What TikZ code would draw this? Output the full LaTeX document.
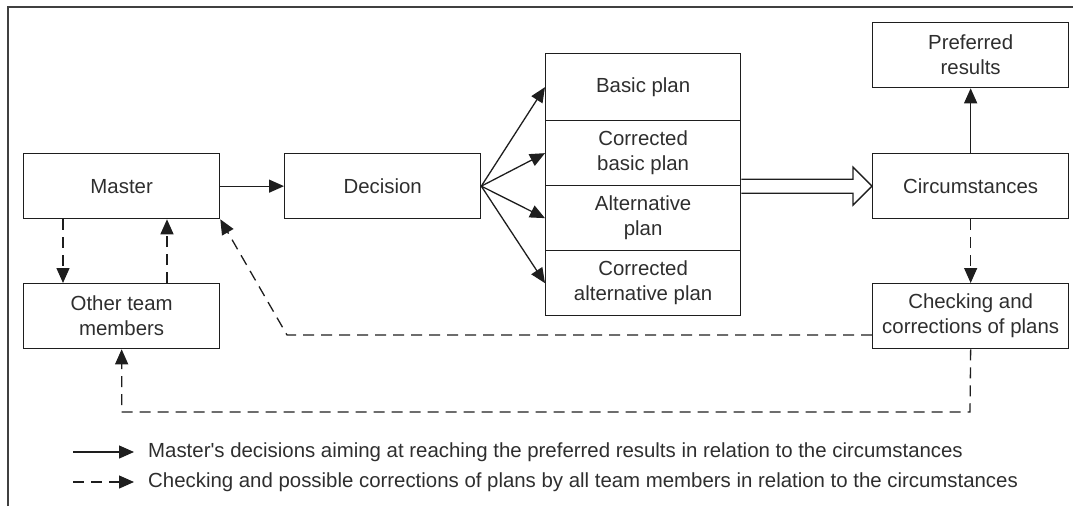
\documentclass[tikz,border=0pt]{standalone}
\usepackage{fontspec}
\setmainfont{Liberation Sans}
\usetikzlibrary{arrows.meta,calc}
\definecolor{ink}{HTML}{1E1E1E}
\definecolor{txt}{HTML}{2E2E2E}
\newcommand{\apos}{\XeTeXglyph\the\XeTeXcharglyph"27\relax}
\begin{document}
\begin{tikzpicture}[x=1pt,y=-1pt,
  every node/.style={font=\fontsize{20.4}{25}\selectfont,text=txt},
  box/.style={draw=ink,line width=1.3pt,minimum width=196pt,minimum height=65pt,
    inner sep=0pt,align=center,anchor=north west},
  tip/.style={-{Triangle[length=15pt,width=13pt]}},
  solidarrow/.style={draw=ink,line width=1.3pt,tip},
  dasharrow/.style={draw=ink,line width=1.3pt,tip,dash pattern=on 11pt off 7pt}]
\useasboundingbox (0,0) rectangle (1073,506);
% frame
\draw[ink!85,line width=1.8pt] (8,506) -- (8,7) -- (1073,7);
% boxes
\node[box] (master) at (23,153) {Master};
\node[box] (other) at (23,283) {Other team\\members};
\node[box] (decision) at (284,153) {Decision};
\node[box,minimum width=195pt,minimum height=67pt] (p1) at (545,53) {Basic plan};
\node[box,minimum width=195pt,minimum height=65pt] (p2) at (545,120) {Corrected\\basic plan};
\node[box,minimum width=195pt,minimum height=65pt] (p3) at (545,185) {Alternative\\plan};
\node[box,minimum width=195pt,minimum height=65pt] (p4) at (545,250) {Corrected\\alternative plan};
\node[box] (pref) at (872,22) {Preferred\\results};
\node[box] (circ) at (872,153) {Circumstances};
\node[box] (check) at (872,283) {Checking and\\corrections of plans};
% decisions
\path[solidarrow] (master.east) -- (decision.west);
\foreach \p in {p1,p2,p3,p4}
  \path[solidarrow] (decision.east) -- (\p.west);
\path[solidarrow] (circ.north) -- (pref.south);
% hollow arrow from the plans to the circumstances
\draw[ink,line width=1.3pt,fill=white]
  ($(p2.south east)+(0,-7)$) -- ($(circ.west)+(-19,-7)$) -- ($(circ.west)+(-19,-19)$)
  -- (circ.west) -- ($(circ.west)+(-19,19)$) -- ($(circ.west)+(-19,7)$)
  -- ($(p2.south east)+(0,7)$);
% checking loops
\path[dasharrow] ($(master.south west)+(40,0)$) -- ($(other.north west)+(40,0)$);
\path[dasharrow] ($(other.north west)+(144,0)$) -- ($(master.south west)+(144,0)$);
\path[dasharrow] (circ.south) -- (check.south |- check.north);
\coordinate (k1) at (287,335);
\path[dasharrow] (check.west |- k1) -- (k1) -- (master.south east);
\coordinate (k2) at (970,412);
\path[dasharrow] (check.south) -- (k2) -- (other.south |- k2) -- (other.south);
% legend
\coordinate (l1a) at (73,452); \coordinate (l1b) at (134,452);
\coordinate (l2a) at (73,482); \coordinate (l2b) at (134,482);
\path[solidarrow] (l1a) -- (l1b);
\path[dasharrow] (l2a) -- (l2b);
\node[anchor=west,inner sep=0pt] (t1) at (148,452) {Master\apos s decisions aiming at reaching the preferred results in relation to the circumstances};
\node[anchor=west,inner sep=0pt] (t2) at (148,482) {Checking and possible corrections of plans by all team members in relation to the circumstances};
\end{tikzpicture}
\end{document}
